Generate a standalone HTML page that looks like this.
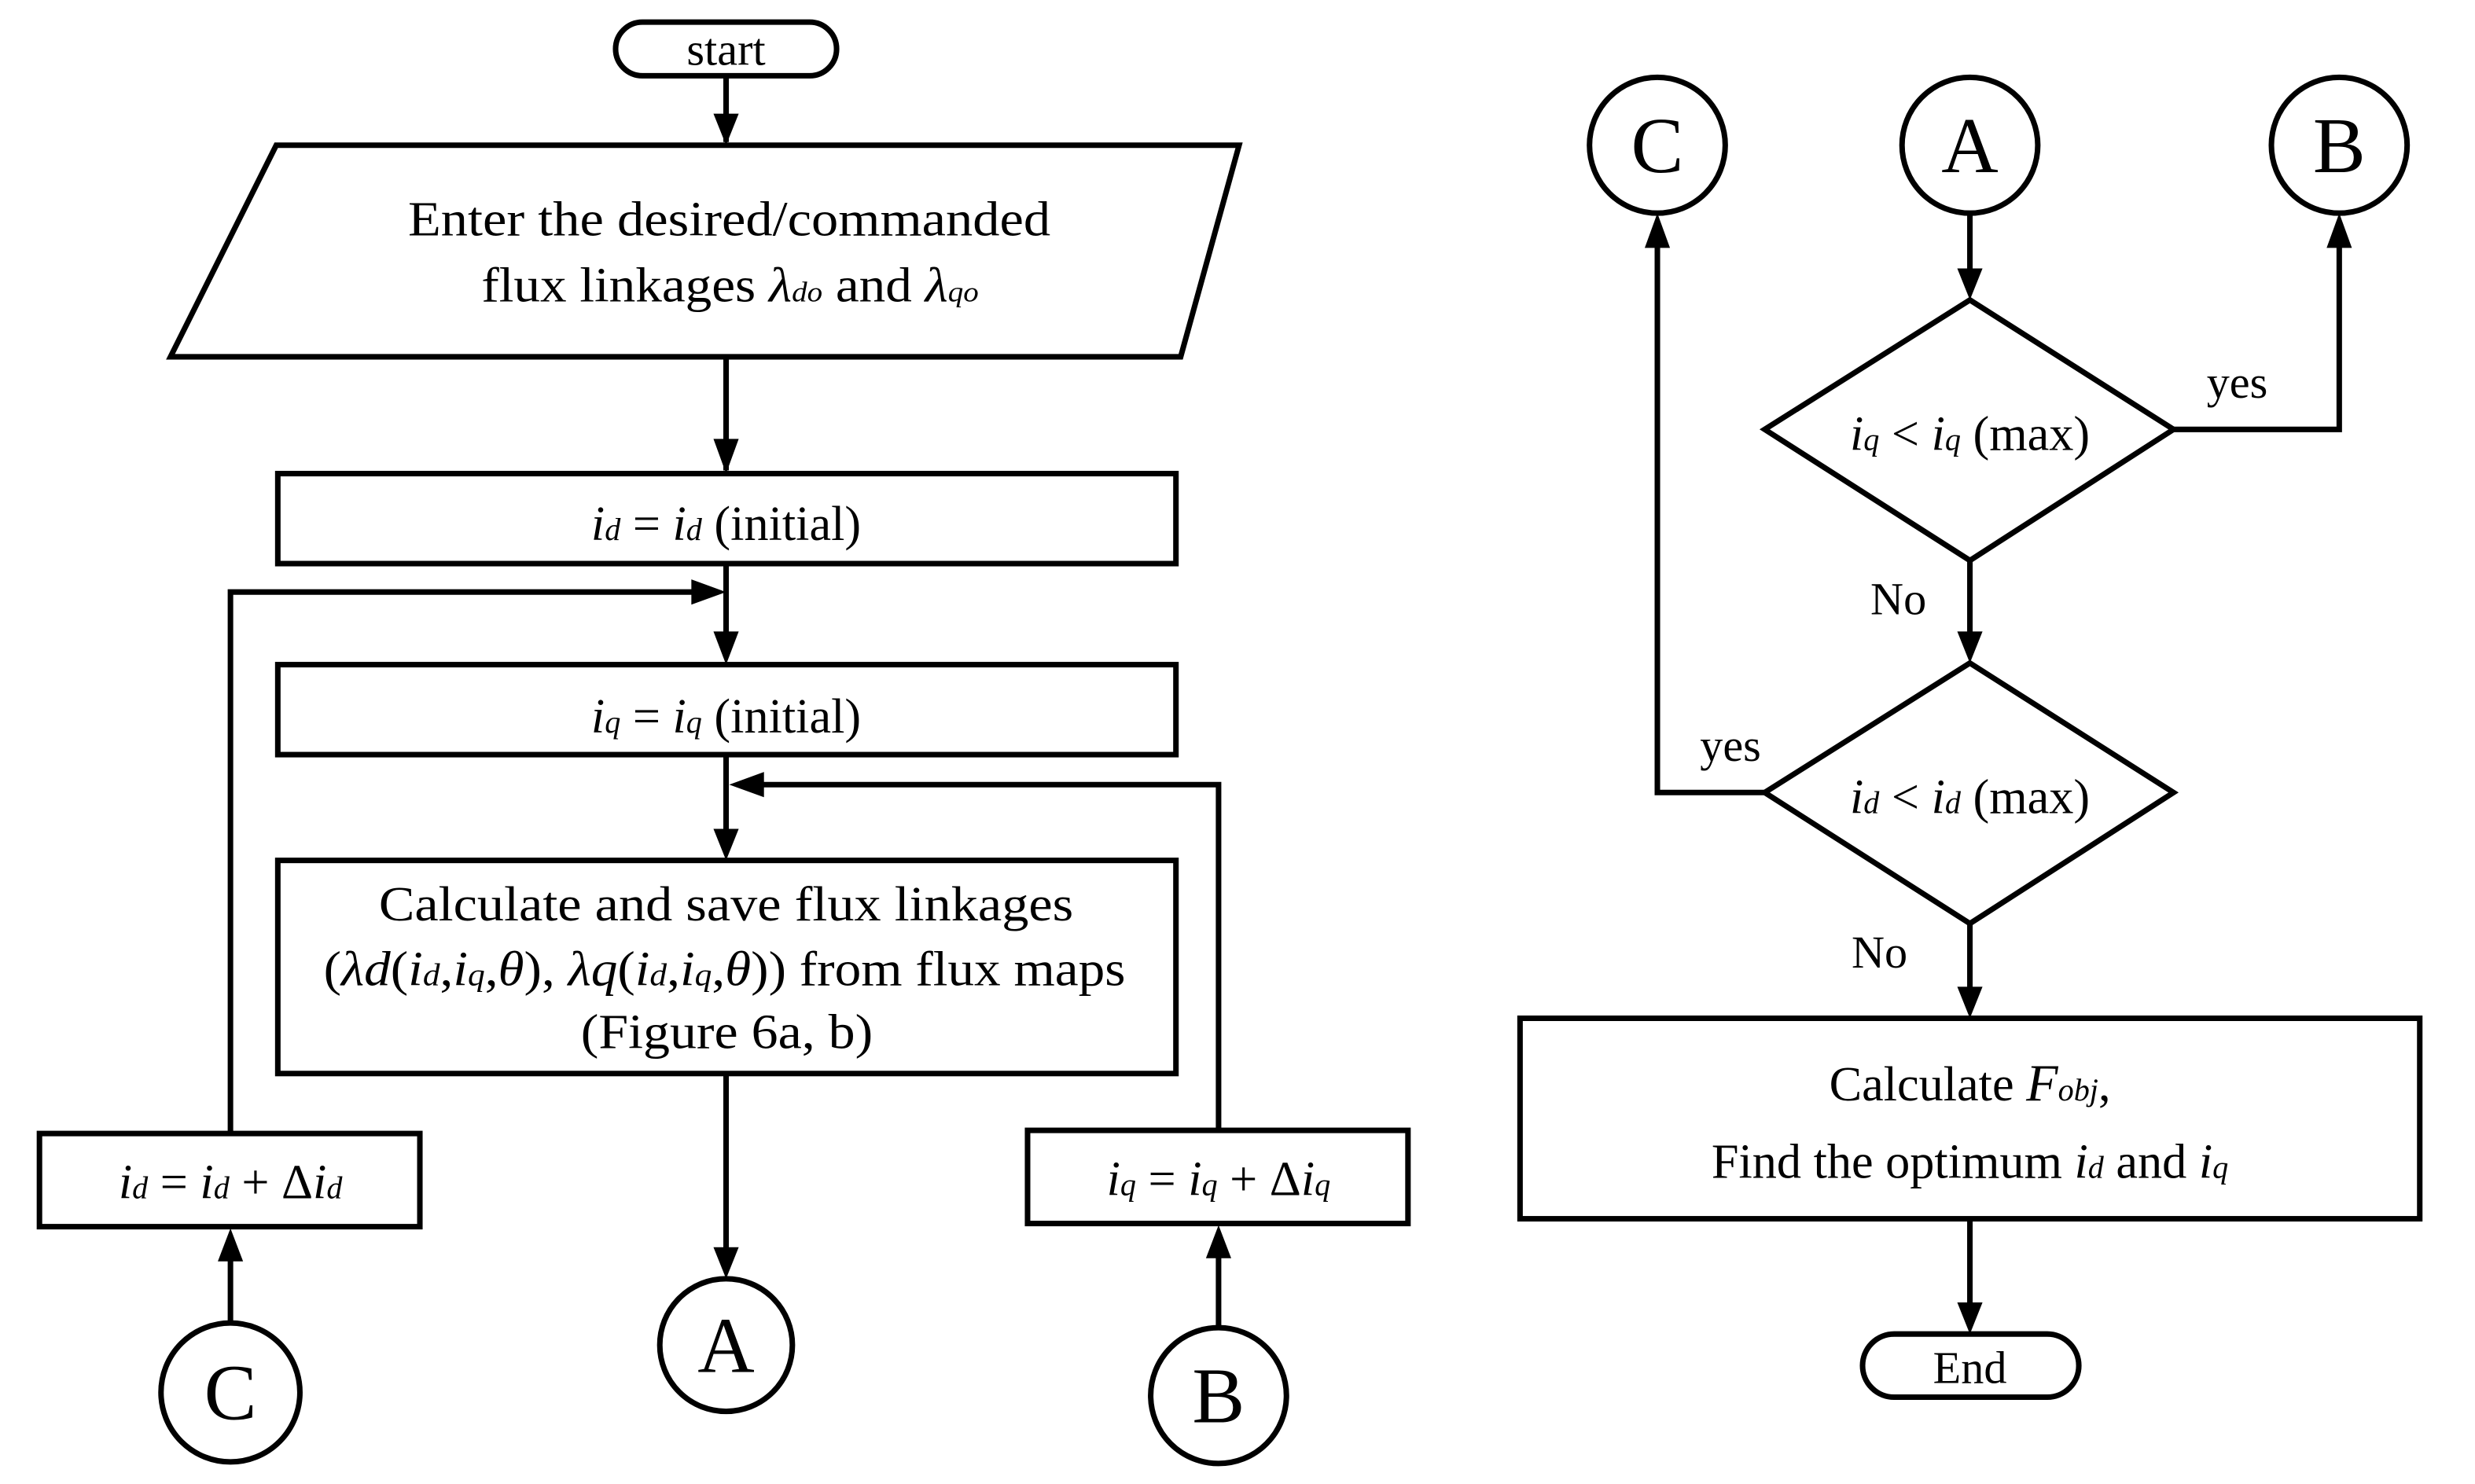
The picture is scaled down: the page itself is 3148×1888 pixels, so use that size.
<!DOCTYPE html>
<html><head><meta charset="utf-8"><style>html,body{margin:0;padding:0;background:#fff}svg{display:block}</style></head>
<body>
<svg width="3148" height="1888" viewBox="0 0 1568 940" preserveAspectRatio="none" xmlns="http://www.w3.org/2000/svg" font-family="Liberation Serif, serif" font-size="31" fill="#000">
<defs><marker id="ar" markerWidth="8" markerHeight="8" refX="7" refY="4" orient="auto" markerUnits="userSpaceOnUse" viewBox="0 0 8 8"><path d="M0,0 L8,4 L0,8z"/></marker></defs>
<style>.l{stroke:#000;stroke-width:3.5;fill:none}.s{fill:#fff;stroke:#000;stroke-width:3.5}.i{font-style:italic}</style>
<g id="arrows" class="l">
<path d="M460,48V90"/><path d="M460,226V298"/>
</g>
<g class="l">
<line x1="460" y1="48" x2="460" y2="74"/><polygon points="452,72 468,72 460,92" fill="#000" stroke="none"/>
<line x1="460" y1="226" x2="460" y2="280"/><polygon points="452,278 468,278 460,300" fill="#000" stroke="none"/>
<line x1="460" y1="357" x2="460" y2="402"/><polygon points="452,400 468,400 460,421" fill="#000" stroke="none"/>
<polyline points="146,718 146,375 440,375"/><polygon points="438,367 438,383 460,375" fill="#000" stroke="none"/>
<line x1="460" y1="478" x2="460" y2="527"/><polygon points="452,525 468,525 460,545" fill="#000" stroke="none"/>
<polyline points="772,716 772,497 482,497"/><polygon points="484,489 484,505 462,497" fill="#000" stroke="none"/>
<line x1="460" y1="680" x2="460" y2="792"/><polygon points="452,790 468,790 460,810" fill="#000" stroke="none"/>
<line x1="146" y1="838" x2="146" y2="797"/><polygon points="138,799 154,799 146,778" fill="#000" stroke="none"/>
<line x1="772" y1="841" x2="772" y2="795"/><polygon points="764,797 780,797 772,776" fill="#000" stroke="none"/>
<line x1="1248" y1="135" x2="1248" y2="172"/><polygon points="1240,170 1256,170 1248,190" fill="#000" stroke="none"/>
<polyline points="1377,272 1482,272 1482,155"/><polygon points="1474,157 1490,157 1482,135" fill="#000" stroke="none"/>
<line x1="1248" y1="355" x2="1248" y2="402"/><polygon points="1240,400 1256,400 1248,420" fill="#000" stroke="none"/>
<polyline points="1118,502 1050,502 1050,155"/><polygon points="1042,157 1058,157 1050,135" fill="#000" stroke="none"/>
<line x1="1248" y1="585" x2="1248" y2="627"/><polygon points="1240,625 1256,625 1248,645" fill="#000" stroke="none"/>
<line x1="1248" y1="772" x2="1248" y2="827"/><polygon points="1240,825 1256,825 1248,845" fill="#000" stroke="none"/>
</g>
<rect class="s" x="390" y="14" width="140" height="34" rx="17"/>
<text x="460" y="41" text-anchor="middle" font-size="29">start</text>
<polygon class="s" points="175,92 785,92 748,226 108,226"/>
<text x="462" y="149" text-anchor="middle" textLength="407" lengthAdjust="spacingAndGlyphs">Enter the desired/commanded</text>
<text x="305" y="191" textLength="315" lengthAdjust="spacingAndGlyphs">flux linkages <tspan class="i">λ</tspan><tspan class="i" font-size="18">do</tspan> and <tspan class="i">λ</tspan><tspan class="i" font-size="18">qo</tspan></text>
<rect class="s" x="176" y="300" width="569" height="57"/>
<text x="460" y="342" text-anchor="middle"><tspan class="i">i</tspan><tspan class="i" font-size="20">d</tspan> = <tspan class="i">i</tspan><tspan class="i" font-size="20">d</tspan> (initial)</text>
<rect class="s" x="176" y="421" width="569" height="57"/>
<text x="460" y="464" text-anchor="middle"><tspan class="i">i</tspan><tspan class="i" font-size="20">q</tspan> = <tspan class="i">i</tspan><tspan class="i" font-size="20">q</tspan> (initial)</text>
<rect class="s" x="176" y="545" width="569" height="135"/>
<text x="240" y="583" textLength="440" lengthAdjust="spacingAndGlyphs">Calculate and save flux linkages</text>
<text x="205" y="624" textLength="508" lengthAdjust="spacingAndGlyphs">(<tspan class="i">λd</tspan>(<tspan class="i">i</tspan><tspan class="i" font-size="20">d</tspan>,<tspan class="i">i</tspan><tspan class="i" font-size="20">q</tspan>,<tspan class="i">θ</tspan>), <tspan class="i">λq</tspan>(<tspan class="i">i</tspan><tspan class="i" font-size="20">d</tspan>,<tspan class="i">i</tspan><tspan class="i" font-size="20">q</tspan>,<tspan class="i">θ</tspan>)) from flux maps</text>
<text x="368" y="664" textLength="185" lengthAdjust="spacingAndGlyphs">(Figure 6a, b)</text>
<rect class="s" x="25" y="718" width="241" height="59"/>
<text x="146" y="759" text-anchor="middle"><tspan class="i">i</tspan><tspan class="i" font-size="20">d</tspan> = <tspan class="i">i</tspan><tspan class="i" font-size="20">d</tspan> + Δ<tspan class="i">i</tspan><tspan class="i" font-size="20">d</tspan></text>
<rect class="s" x="651" y="716" width="241" height="59"/>
<text x="772" y="757" text-anchor="middle"><tspan class="i">i</tspan><tspan class="i" font-size="20">q</tspan> = <tspan class="i">i</tspan><tspan class="i" font-size="20">q</tspan> + Δ<tspan class="i">i</tspan><tspan class="i" font-size="20">q</tspan></text>
<g font-size="50" text-anchor="middle">
<circle class="s" cx="460" cy="852" r="42"/><text x="460" y="869">A</text>
<circle class="s" cx="146" cy="882" r="44"/><text x="146" y="899">C</text>
<circle class="s" cx="772" cy="884" r="43"/><text x="772" y="901">B</text>
<circle class="s" cx="1050" cy="92" r="43"/><text x="1050" y="109">C</text>
<circle class="s" cx="1248" cy="92" r="43"/><text x="1248" y="109">A</text>
<circle class="s" cx="1482" cy="92" r="43"/><text x="1482" y="109">B</text>
</g>
<polygon class="s" points="1248,190 1377,272 1248,355 1118,272"/>
<text x="1248" y="285" text-anchor="middle"><tspan class="i">i</tspan><tspan class="i" font-size="20">q</tspan> &lt; <tspan class="i">i</tspan><tspan class="i" font-size="20">q</tspan> (max)</text>
<polygon class="s" points="1248,420 1377,502 1248,585 1118,502"/>
<text x="1248" y="515" text-anchor="middle"><tspan class="i">i</tspan><tspan class="i" font-size="20">d</tspan> &lt; <tspan class="i">i</tspan><tspan class="i" font-size="20">d</tspan> (max)</text>
<text x="1398" y="252" font-size="29">yes</text>
<text x="1185" y="389" font-size="29">No</text>
<text x="1077" y="482" font-size="29">yes</text>
<text x="1173" y="613" font-size="29">No</text>
<rect class="s" x="963" y="645" width="570" height="127"/>
<text x="1248" y="697" text-anchor="middle">Calculate <tspan class="i" font-size="33">F</tspan><tspan class="i" font-size="20">obj</tspan>,</text>
<text x="1248" y="746" text-anchor="middle">Find the optimum <tspan class="i">i</tspan><tspan class="i" font-size="20">d</tspan> and <tspan class="i">i</tspan><tspan class="i" font-size="20">q</tspan></text>
<rect class="s" x="1180" y="845" width="137" height="40" rx="20"/>
<text x="1248" y="876" text-anchor="middle" font-size="29">End</text>
</svg>
</body></html>
